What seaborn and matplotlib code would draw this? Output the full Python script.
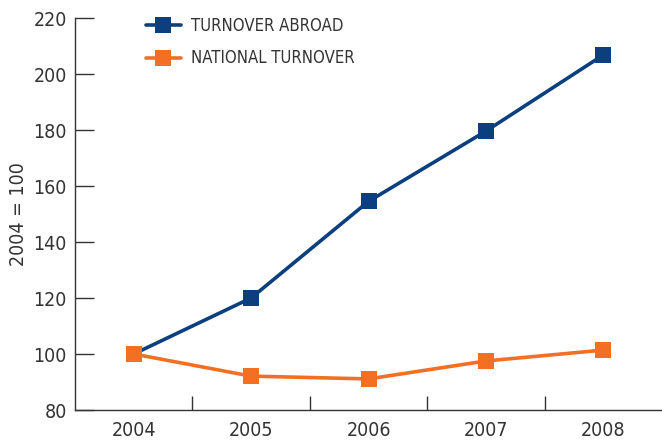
import pandas as pd
import seaborn as sns
import matplotlib.pyplot as plt

years = ['2004', '2005', '2006', '2007', '2008']
abroad = [100, 120, 154.5, 179.6, 206.8]
national = [100, 92.1, 91.1, 97.5, 101.4]
series_names = ['TURNOVER ABROAD', 'NATIONAL TURNOVER']
colors = ['#0b3f7d', '#f26f23']

df = pd.DataFrame({
    'year': years * 2,
    'value': abroad + national,
    'series': [series_names[0]] * 5 + [series_names[1]] * 5,
})
df['x'] = df['year'].map({y: i for i, y in enumerate(years)})

sns.set_style('ticks')
plt.rcParams['font.family'] = ['DejaVu Sans']
plt.rcParams['font.stretch'] = 'condensed'
plt.rcParams['text.color'] = '#333333'

fig = plt.figure(figsize=(6.62, 4.41), dpi=100)
ax = fig.add_axes([75 / 662, 31 / 441, 587 / 662, 392 / 441])

sns.lineplot(data=df, x='x', y='value', hue='series', palette=colors,
             marker='s', markersize=11, markeredgewidth=0, linewidth=2.6,
             ax=ax, legend=True)

ax.set_xlim(-0.5, 4.5)
ax.set_ylim(80, 220)
ax.set_yticks(range(80, 221, 20))
ax.set_xticks([i - 0.5 for i in range(1, 5)])
ax.set_xticklabels([])
ax.set_xticks(range(5), minor=True)
ax.set_xticklabels(years, minor=True)
ax.tick_params(axis='x', which='minor', length=0, labelsize=14, pad=8, colors='#333333')
ax.tick_params(axis='x', which='major', direction='in', length=10, width=1, color='#333333')
ax.tick_params(axis='y', direction='in', length=14, width=1, labelsize=14, pad=6,
               colors='#333333')
ax.set_xlabel('')
ax.set_ylabel('2004 = 100', fontsize=14, color='#333333', labelpad=4)
for s in ['top', 'right']:
    ax.spines[s].set_visible(False)
for s in ['left', 'bottom']:
    ax.spines[s].set_color('#333333')
    ax.spines[s].set_linewidth(1)

leg = ax.legend(loc='upper left', bbox_to_anchor=(0.095, 1.04), frameon=False,
                fontsize=12, handlelength=2.1, handletextpad=0.6, labelspacing=0.85)
for t in leg.get_texts():
    t.set_color('#333333')

fig.savefig('out.png', dpi=100)
